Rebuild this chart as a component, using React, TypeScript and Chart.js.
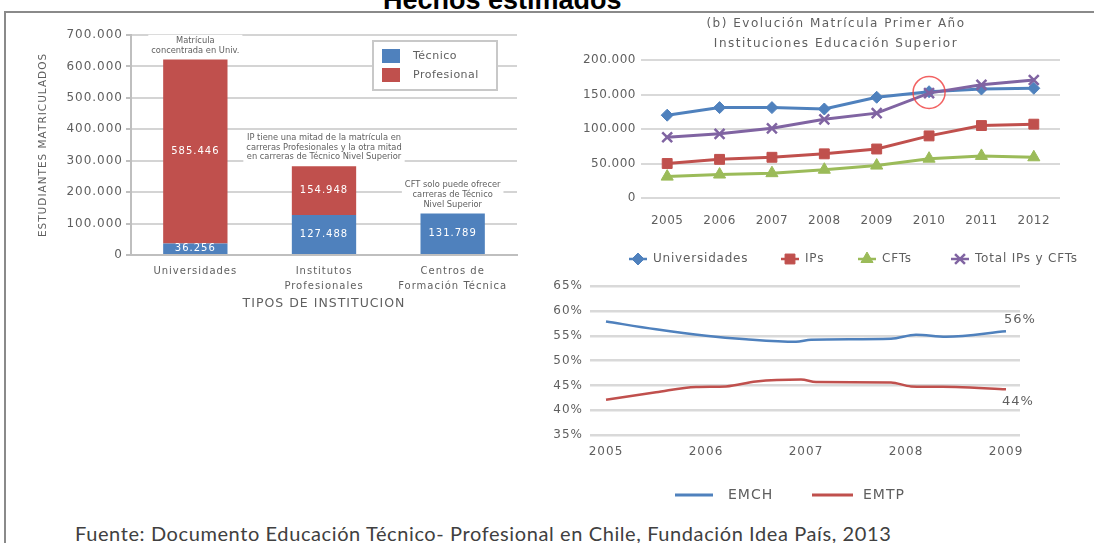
import React, { useEffect, useRef } from 'react';
import { Chart, registerables } from 'chart.js';
import { drawPoint } from 'chart.js/helpers';

Chart.register(...registerables);

const FONT = '"DejaVu Sans", sans-serif';
const GREY = '#5f5f5f';
const BLUE = '#4f81bd';
const RED = '#c0504d';
const GREEN = '#9bbb59';
const PURPLE = '#8064a2';

// ---- (a) Matrícula por tipo de institución ----
const instCategories = [['Universidades'], ['Institutos', 'Profesionales'], ['Centros de', 'Formación Técnica']];
const tecnicoValues = [36256, 127488, 131789];
const profesionalValues = [585446, 154948, null];
const instNotes = [
  ['Matrícula', 'concentrada en Univ.'],
  ['IP tiene una mitad de la matrícula en', 'carreras Profesionales y la otra mitad', 'en carreras de Técnico Nivel Superior'],
  ['CFT solo puede ofrecer', 'carreras de Técnico', 'Nivel Superior'],
];
const instYMax = 700000;
const instYStep = 100000;

// ---- (b) Evolución matrícula primer año ----
const years = ['2005', '2006', '2007', '2008', '2009', '2010', '2011', '2012'];
const universidades = [120000, 131000, 131000, 129000, 146000, 154000, 158000, 159000];
const ips = [50000, 56000, 59000, 64000, 71000, 90000, 105000, 107000];
const cfts = [31000, 34000, 36000, 41000, 47000, 57000, 61000, 59000];
const totalIpsCfts = [88000, 93000, 101000, 114000, 123000, 152000, 164000, 171000];
const highlightIndex = 5;

// ---- (c) EMCH / EMTP ----
const trendTickYears = [2005, 2006, 2007, 2008, 2009];
const emchYears = [2005, 2005.5, 2006, 2006.4, 2006.9, 2007.05, 2007.85, 2008.1, 2008.4, 2009];
const emchValues = [57.9, 56.3, 55.0, 54.3, 53.8, 54.2, 54.4, 55.2, 54.8, 55.9];
const emtpYears = [2005, 2005.5, 2005.9, 2006.2, 2006.5, 2006.95, 2007.1, 2007.85, 2008.05, 2008.5, 2009];
const emtpValues = [42.1, 43.6, 44.7, 44.8, 45.8, 46.2, 45.7, 45.6, 44.8, 44.7, 44.2];

const fmt = (v: number) => String(v).replace(/\B(?=(\d{3})+(?!\d))/g, '.');

const instPlugin = {
  id: 'instExtras',
  beforeDraw(chart: any) {
    chart.ctx.letterSpacing = '1px';
  },
  afterDatasetsDraw(chart: any) {
    const ctx = chart.ctx;
    ctx.save();
    ctx.textAlign = 'center';
    ctx.textBaseline = 'middle';
    ctx.font = `10px ${FONT}`;
    ctx.letterSpacing = '1px';
    ctx.fillStyle = '#ffffff';
    chart.data.datasets.forEach((ds: any, di: number) => {
      chart.getDatasetMeta(di).data.forEach((el: any, i: number) => {
        const v = ds.data[i];
        if (v == null) return;
        ctx.fillText(fmt(v), el.x, (el.y + el.base) / 2);
      });
    });
    ctx.font = `8.3px ${FONT}`;
    ctx.letterSpacing = '0px';
    instNotes.forEach((lines, i) => {
      let top = Infinity;
      let x = 0;
      chart.data.datasets.forEach((ds: any, di: number) => {
        const el: any = chart.getDatasetMeta(di).data[i];
        if (ds.data[i] != null) {
          top = Math.min(top, el.y);
          x = el.x;
        }
      });
      const lh = 9.8;
      const lastY = top - 9;
      const firstY = lastY - lh * (lines.length - 1);
      const w = Math.max(...lines.map((l) => ctx.measureText(l).width));
      ctx.fillStyle = '#ffffff';
      ctx.fillRect(x - w / 2 - 3, firstY - 6, w + 6, lastY - firstY + 12);
      ctx.fillStyle = GREY;
      lines.forEach((l, k) => ctx.fillText(l, x, firstY + k * lh));
    });
    ctx.restore();
  },
  afterDraw(chart: any) {
    const ctx = chart.ctx;
    ctx.save();
    ctx.fillStyle = '#ffffff';
    ctx.strokeStyle = '#c8c8c8';
    ctx.lineWidth = 2;
    ctx.fillRect(353, 21, 124, 49);
    ctx.strokeRect(353, 21, 124, 49);
    const items = [
      { label: 'Técnico', color: BLUE, y: 36 },
      { label: 'Profesional', color: RED, y: 55 },
    ];
    ctx.font = `11px ${FONT}`;
    ctx.letterSpacing = '0.5px';
    ctx.textBaseline = 'middle';
    ctx.textAlign = 'left';
    items.forEach((it) => {
      ctx.fillStyle = it.color;
      ctx.fillRect(362, it.y - 7, 18, 14);
      ctx.fillStyle = GREY;
      ctx.fillText(it.label, 393, it.y);
    });
    ctx.restore();
  },
};

const evoSeries = [
  { label: 'Universidades', data: universidades, color: BLUE, style: 'rectRot', radius: 6, bw: 1, order: 4 },
  { label: 'IPs', data: ips, color: RED, style: 'rect', radius: 7, bw: 1, order: 3 },
  { label: 'CFTs', data: cfts, color: GREEN, style: 'triangle', radius: 7, bw: 1, order: 2 },
  { label: 'Total IPs y CFTs', data: totalIpsCfts, color: PURPLE, style: 'crossRot', radius: 7, bw: 2.5, order: 1 },
];
const evoLegendX = [78, 230, 307, 400];

const evoPlugin = {
  id: 'evoExtras',
  beforeDraw(chart: any) {
    chart.ctx.letterSpacing = '0.5px';
  },
  afterDatasetsDraw(chart: any) {
    const ctx = chart.ctx;
    const a: any = chart.getDatasetMeta(0).data[highlightIndex];
    const b: any = chart.getDatasetMeta(3).data[highlightIndex];
    ctx.save();
    ctx.strokeStyle = 'rgba(240,70,70,0.85)';
    ctx.lineWidth = 1.5;
    ctx.beginPath();
    ctx.arc(b.x, (a.y + b.y) / 2, 16, 0, Math.PI * 2);
    ctx.stroke();
    ctx.restore();
  },
  afterDraw(chart: any) {
    const ctx = chart.ctx;
    ctx.save();
    const y = 249;
    ctx.font = `12px ${FONT}`;
    ctx.letterSpacing = '0.8px';
    ctx.textBaseline = 'middle';
    ctx.textAlign = 'left';
    evoSeries.forEach((s, i) => {
      const x = evoLegendX[i];
      ctx.strokeStyle = s.color;
      ctx.lineWidth = 2.5;
      ctx.beginPath();
      ctx.moveTo(x - 9, y);
      ctx.lineTo(x + 9, y);
      ctx.stroke();
      ctx.fillStyle = s.color;
      ctx.lineWidth = s.bw;
      drawPoint(ctx, { pointStyle: s.style as any, radius: s.radius, rotation: 0, borderWidth: s.bw }, x, y);
      ctx.fillStyle = GREY;
      ctx.fillText(s.label, x + 15, y);
    });
    ctx.restore();
  },
};

const trendPlugin = {
  id: 'trendExtras',
  beforeDraw(chart: any) {
    chart.ctx.letterSpacing = '1px';
  },
  afterDatasetsDraw(chart: any) {
    const ctx = chart.ctx;
    ctx.save();
    ctx.font = `13px ${FONT}`;
    ctx.letterSpacing = '1px';
    ctx.fillStyle = GREY;
    ctx.textAlign = 'center';
    ctx.textBaseline = 'middle';
    const offs = [[14, -12], [12, 12]];
    chart.data.datasets.forEach((ds: any, di: number) => {
      const pts = chart.getDatasetMeta(di).data;
      const last: any = pts[pts.length - 1];
      const v = ds.data[ds.data.length - 1].y;
      ctx.fillText(`${Math.round(v)}%`, last.x + offs[di][0], last.y + offs[di][1]);
    });
    ctx.restore();
  },
  afterDraw(chart: any) {
    const ctx = chart.ctx;
    ctx.save();
    const y = 223;
    ctx.font = `14px ${FONT}`;
    ctx.letterSpacing = '1px';
    ctx.textBaseline = 'middle';
    ctx.textAlign = 'left';
    const items = [
      { label: 'EMCH', color: BLUE, x0: 135, x1: 173, tx: 188 },
      { label: 'EMTP', color: RED, x0: 272, x1: 313, tx: 323 },
    ];
    items.forEach((it) => {
      ctx.strokeStyle = it.color;
      ctx.lineWidth = 3;
      ctx.beginPath();
      ctx.moveTo(it.x0, y);
      ctx.lineTo(it.x1, y);
      ctx.stroke();
      ctx.fillStyle = GREY;
      ctx.fillText(it.label, it.tx, y);
    });
    ctx.restore();
  },
};

export default function App() {
  const c1 = useRef<HTMLCanvasElement>(null);
  const c2 = useRef<HTMLCanvasElement>(null);
  const c3 = useRef<HTMLCanvasElement>(null);

  useEffect(() => {
    const chart1 = new Chart(c1.current!, {
      type: 'bar',
      data: {
        labels: instCategories as any,
        datasets: [
          { label: 'Técnico', data: tecnicoValues, backgroundColor: BLUE, barPercentage: 0.5, categoryPercentage: 1 },
          { label: 'Profesional', data: profesionalValues as any, backgroundColor: RED, barPercentage: 0.5, categoryPercentage: 1 },
        ],
      },
      options: {
        responsive: false,
        animation: false,
        layout: { padding: { top: 15, right: 13, left: 0, bottom: 0 } },
        plugins: { legend: { display: false }, tooltip: { enabled: false } },
        scales: {
          x: {
            stacked: true,
            grid: { display: false, drawTicks: false },
            border: { display: true, color: '#bfbfbf', width: 2 },
            ticks: { color: GREY, font: { family: FONT, size: 10, lineHeight: 1.5 }, padding: 8.5, maxRotation: 0, autoSkip: false },
            title: { display: true, text: 'TIPOS DE INSTITUCION', color: GREY, font: { family: FONT, size: 12.5 }, padding: { top: 0, bottom: 9 } },
            afterFit: (s: any) => { s.height = 65; },
          },
          y: {
            stacked: true,
            min: 0,
            max: instYMax,
            ticks: { stepSize: instYStep, callback: (v: any) => fmt(v), color: GREY, font: { family: FONT, size: 12 }, padding: 3 },
            grid: { color: '#d4d4d4', lineWidth: 2, drawTicks: true, tickLength: 5, tickColor: '#bfbfbf' },
            border: { display: true, color: '#bfbfbf', width: 2 },
            title: { display: true, text: 'ESTUDIANTES MATRICULADOS', color: GREY, font: { family: FONT, size: 10.5 }, padding: { top: 16.7, bottom: 0 } },
            afterFit: (s: any) => { s.width = 111; },
          },
        },
      } as any,
      plugins: [instPlugin],
    });

    const chart2 = new Chart(c2.current!, {
      type: 'line',
      data: {
        labels: years,
        datasets: evoSeries.map((s) => ({
          label: s.label,
          data: s.data,
          borderColor: s.color,
          backgroundColor: s.color,
          borderWidth: 3,
          pointStyle: s.style as any,
          pointRadius: s.radius,
          pointBorderWidth: s.bw,
          pointBackgroundColor: s.color,
          pointBorderColor: s.color,
          tension: 0,
          order: s.order,
        })),
      },
      options: {
        responsive: false,
        animation: false,
        layout: { padding: { top: 50, right: 34, left: 0, bottom: 0 } },
        plugins: { legend: { display: false }, tooltip: { enabled: false } },
        scales: {
          x: {
            offset: true,
            grid: { display: false, drawTicks: false },
            border: { display: false },
            ticks: { color: GREY, font: { family: FONT, size: 12 }, padding: 16, maxRotation: 0, autoSkip: false },
            afterFit: (s: any) => { s.height = 77; },
          },
          y: {
            min: 0,
            max: 200000,
            ticks: { stepSize: 50000, callback: (v: any) => fmt(v), color: GREY, font: { family: FONT, size: 12 }, padding: 5 },
            grid: { color: '#d9d9d9', lineWidth: 2, drawTicks: false },
            border: { display: false },
            afterFit: (s: any) => { s.width = 81; },
          },
        },
      } as any,
      plugins: [evoPlugin],
    });

    const chart3 = new Chart(c3.current!, {
      type: 'line',
      data: {
        datasets: [
          {
            label: 'EMCH',
            data: emchYears.map((x, i) => ({ x, y: emchValues[i] })),
            borderColor: BLUE,
            borderWidth: 2.5,
            pointRadius: 0,
            cubicInterpolationMode: 'monotone',
          },
          {
            label: 'EMTP',
            data: emtpYears.map((x, i) => ({ x, y: emtpValues[i] })),
            borderColor: RED,
            borderWidth: 2.5,
            pointRadius: 0,
            cubicInterpolationMode: 'monotone',
          },
        ],
      },
      options: {
        responsive: false,
        animation: false,
        layout: { padding: { top: 13, right: 74, left: 0, bottom: 0 } },
        plugins: { legend: { display: false }, tooltip: { enabled: false } },
        scales: {
          x: {
            type: 'linear',
            bounds: 'data',
            min: 2004.84,
            max: 2009.14,
            afterBuildTicks: (s: any) => { s.ticks = trendTickYears.map((v) => ({ value: v })); },
            grid: { display: false, drawTicks: false },
            border: { display: false },
            ticks: { callback: (v: any) => String(v), color: GREY, font: { family: FONT, size: 12 }, padding: 10, maxRotation: 0, autoSkip: false },
            afterFit: (s: any) => { s.height = 72; },
          },
          y: {
            min: 35,
            max: 65,
            ticks: { stepSize: 5, callback: (v: any) => `${v}%`, color: GREY, font: { family: FONT, size: 12 }, padding: 7 },
            grid: { color: '#d9d9d9', lineWidth: 2.5, drawTicks: false },
            border: { display: false },
            afterFit: (s: any) => { s.width = 50; },
          },
        },
      } as any,
      plugins: [trendPlugin],
    });

    return () => {
      chart1.destroy();
      chart2.destroy();
      chart3.destroy();
    };
  }, []);

  return (
    <div
      style={{
        position: 'absolute',
        left: 0,
        top: 0,
        width: 1094,
        height: 543,
        background: '#ffffff',
        overflow: 'hidden',
        fontFamily: FONT,
      }}
    >
      <div
        style={{
          position: 'absolute',
          left: 4,
          top: 11,
          width: 1200,
          height: 700,
          borderTop: '2px solid #8a8a8a',
          borderLeft: '2px solid #8a8a8a',
        }}
      />
      <div
        style={{
          position: 'absolute',
          left: 383,
          top: -13,
          font: 'bold 27px "Liberation Sans", Arial, sans-serif',
          lineHeight: '27px',
          whiteSpace: 'nowrap',
          color: '#000000',
        }}
      >
        Hechos estimados
      </div>
      <canvas ref={c1} width={510} height={300} style={{ position: 'absolute', left: 20, top: 20 }} />
      <canvas ref={c2} width={534} height={265} style={{ position: 'absolute', left: 560, top: 10 }} />
      <canvas ref={c3} width={554} height={235} style={{ position: 'absolute', left: 540, top: 272 }} />
      <div
        style={{
          position: 'absolute',
          left: 636,
          top: 13,
          width: 400,
          textAlign: 'center',
          fontSize: 12,
          lineHeight: '20px',
          letterSpacing: '1.5px',
          color: GREY,
          whiteSpace: 'nowrap',
        }}
      >
        <div>(b) Evolución Matrícula Primer Año</div>
        <div>Instituciones Educación Superior</div>
      </div>
      <div
        style={{
          position: 'absolute',
          left: 75,
          top: 521,
          fontFamily: 'Lato, "Open Sans", sans-serif',
          fontSize: 20,
          letterSpacing: '0.6px',
          lineHeight: '24px',
          color: '#404040',
          whiteSpace: 'nowrap',
        }}
      >
        Fuente: Documento Educación Técnico- Profesional en Chile, Fundación Idea País, 2013
      </div>
    </div>
  );
}
